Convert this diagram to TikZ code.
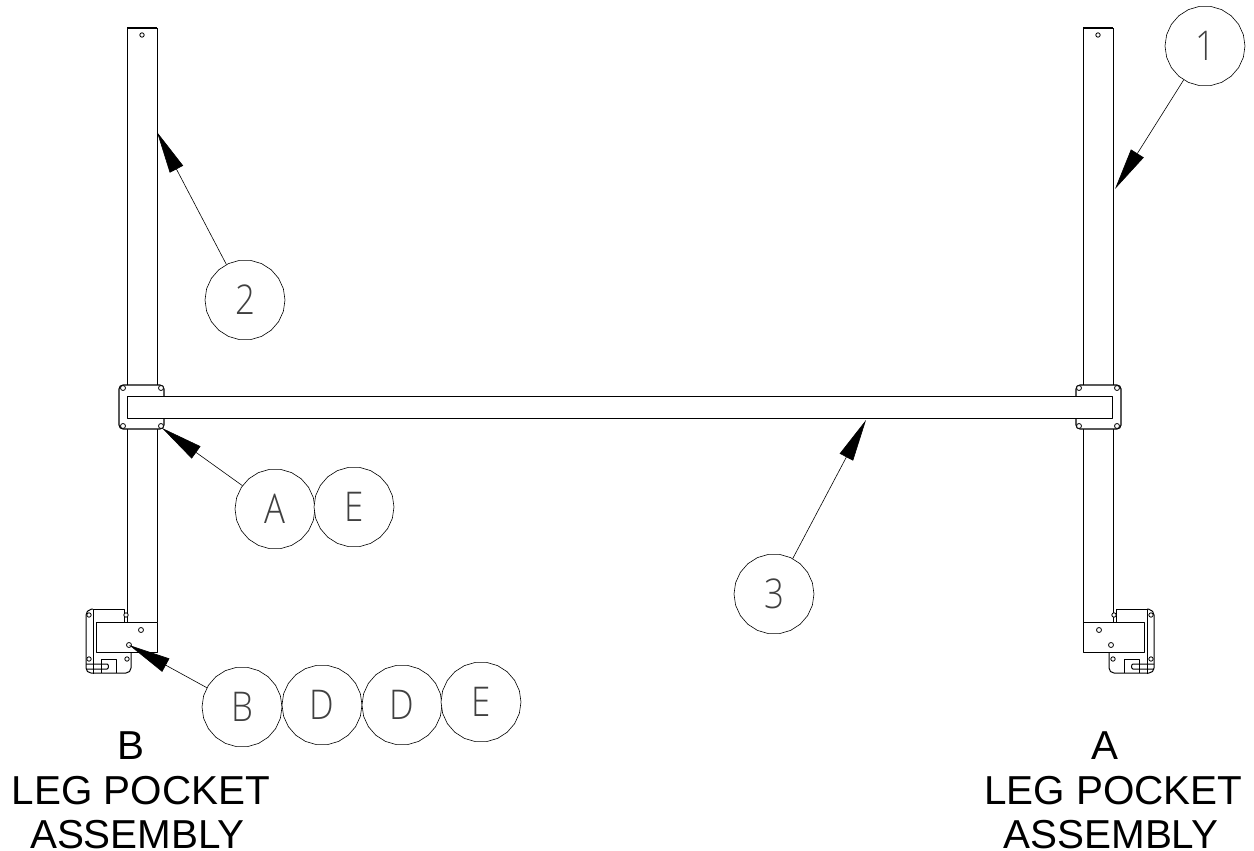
\documentclass[tikz,border=0pt]{standalone}
\usepackage{fontspec}
\usetikzlibrary{arrows.meta,shapes.geometric}
\setmainfont{Liberation Sans}
\newfontfamily\cadfont[FakeStretch=0.85]{Open Sans Light}
\tikzset{
  part/.style={draw=black,line width=0.8pt,line join=round},
  heavy/.style={draw=black,line width=1.5pt},
  hole/.style={draw=black,line width=0.8pt,fill=white},
  balloon/.style={draw=black,line width=0.6pt,regular polygon,regular polygon sides=22,minimum size=80pt,inner sep=0pt,fill=white,font=\cadfont\fontsize{41pt}{41pt}\selectfont,text=black!75},
  lead/.style={draw=black,line width=0.6pt,-{Triangle[length=42pt,width=15pt]}},
  caption/.style={anchor=base,font=\fontsize{40.4pt}{43.5pt}\selectfont,inner sep=0pt,text=black}
}
\newcommand{\legside}{%
  % leg
  \draw[part] (127,622) -- (127,28) (157,28) -- (157,622);
  \draw[heavy] (127,28) -- (157,28);
  \draw[hole] (142,35) circle (2.2);
  % plate
  \draw[part,line width=1.1pt,fill=white,rounded corners=4pt] (119,385) rectangle (164,429);
  \foreach \hx/\hy in {123/388,161/388,123/426,161/426}{\draw[hole] (\hx,\hy) circle (2.5);}
  % pocket rear plate
  \draw[part,line width=1pt,rounded corners=5pt] (93,609) -- (86,610) -- (86,673) -- (131,673) -- (131,650);
  \draw[part] (93,674) -- (93,609) -- (124,609) -- (124,625);
  \draw[part,line width=1pt] (86,664) -- (107,664) to[out=0,in=0] (107,669) -- (86,669);
  \draw[part] (101,673) -- (101,659) -- (116,659) -- (116,673);
  \foreach \hx/\hy in {89/615,126/615,89/659,127/659}{\draw[hole] (\hx,\hy) circle (2.2);}
  % pocket front block
  \draw[part,line width=1pt,fill=white] (96,622) rectangle (157,652);
  \draw[hole] (141,630) circle (2.5);
  \draw[hole] (129,645) circle (2.5);
}
\begin{document}
\begin{tikzpicture}[x=1pt,y=-1pt]
\useasboundingbox (0,0) rectangle (1254,851);
\legside
\begin{scope}[xshift=1240pt,xscale=-1]
\legside
\end{scope}
% cross bar
\draw[part,fill=white] (127.5,396) rectangle (1112.5,418);
% balloons
\node[balloon] (c1) at (1205,46) {1};
\node[balloon] (c2) at (245,300) {2};
\node[balloon] (c3) at (774,594) {3};
\node[balloon] (cA) at (275,509) {A};
\node[balloon] (cE) at (354,507) {E};
\node[balloon] (cB) at (242,707) {B};
\node[balloon] (cD) at (322,705) {D};
\node[balloon] (cDb) at (402,705) {D};
\node[balloon] (cEb) at (481,702) {E};
% leader tips
\coordinate (t1) at (1115,189);
\coordinate (t2) at (157,132);
\coordinate (t3) at (866,420);
\coordinate (tA) at (162,428);
\coordinate (tB) at (129,645);
\draw[lead] (c1) -- (t1);
\draw[lead] (c2) -- (t2);
\draw[lead] (c3) -- (t3);
\draw[lead] (cA) -- (tA);
\draw[lead] (cB) -- (tB);
% captions
\node[caption] (capBa) at (131,759) {B};
\node[caption] (capBb) at (141,804) {LEG POCKET};
\node[caption] (capBc) at (137.5,848) {ASSEMBLY};
\node[caption] (capAa) at (1104.5,759) {A};
\node[caption] (capAb) at (1113.5,804) {LEG POCKET};
\node[caption] (capAc) at (1111,848) {ASSEMBLY};
\end{tikzpicture}
\end{document}
